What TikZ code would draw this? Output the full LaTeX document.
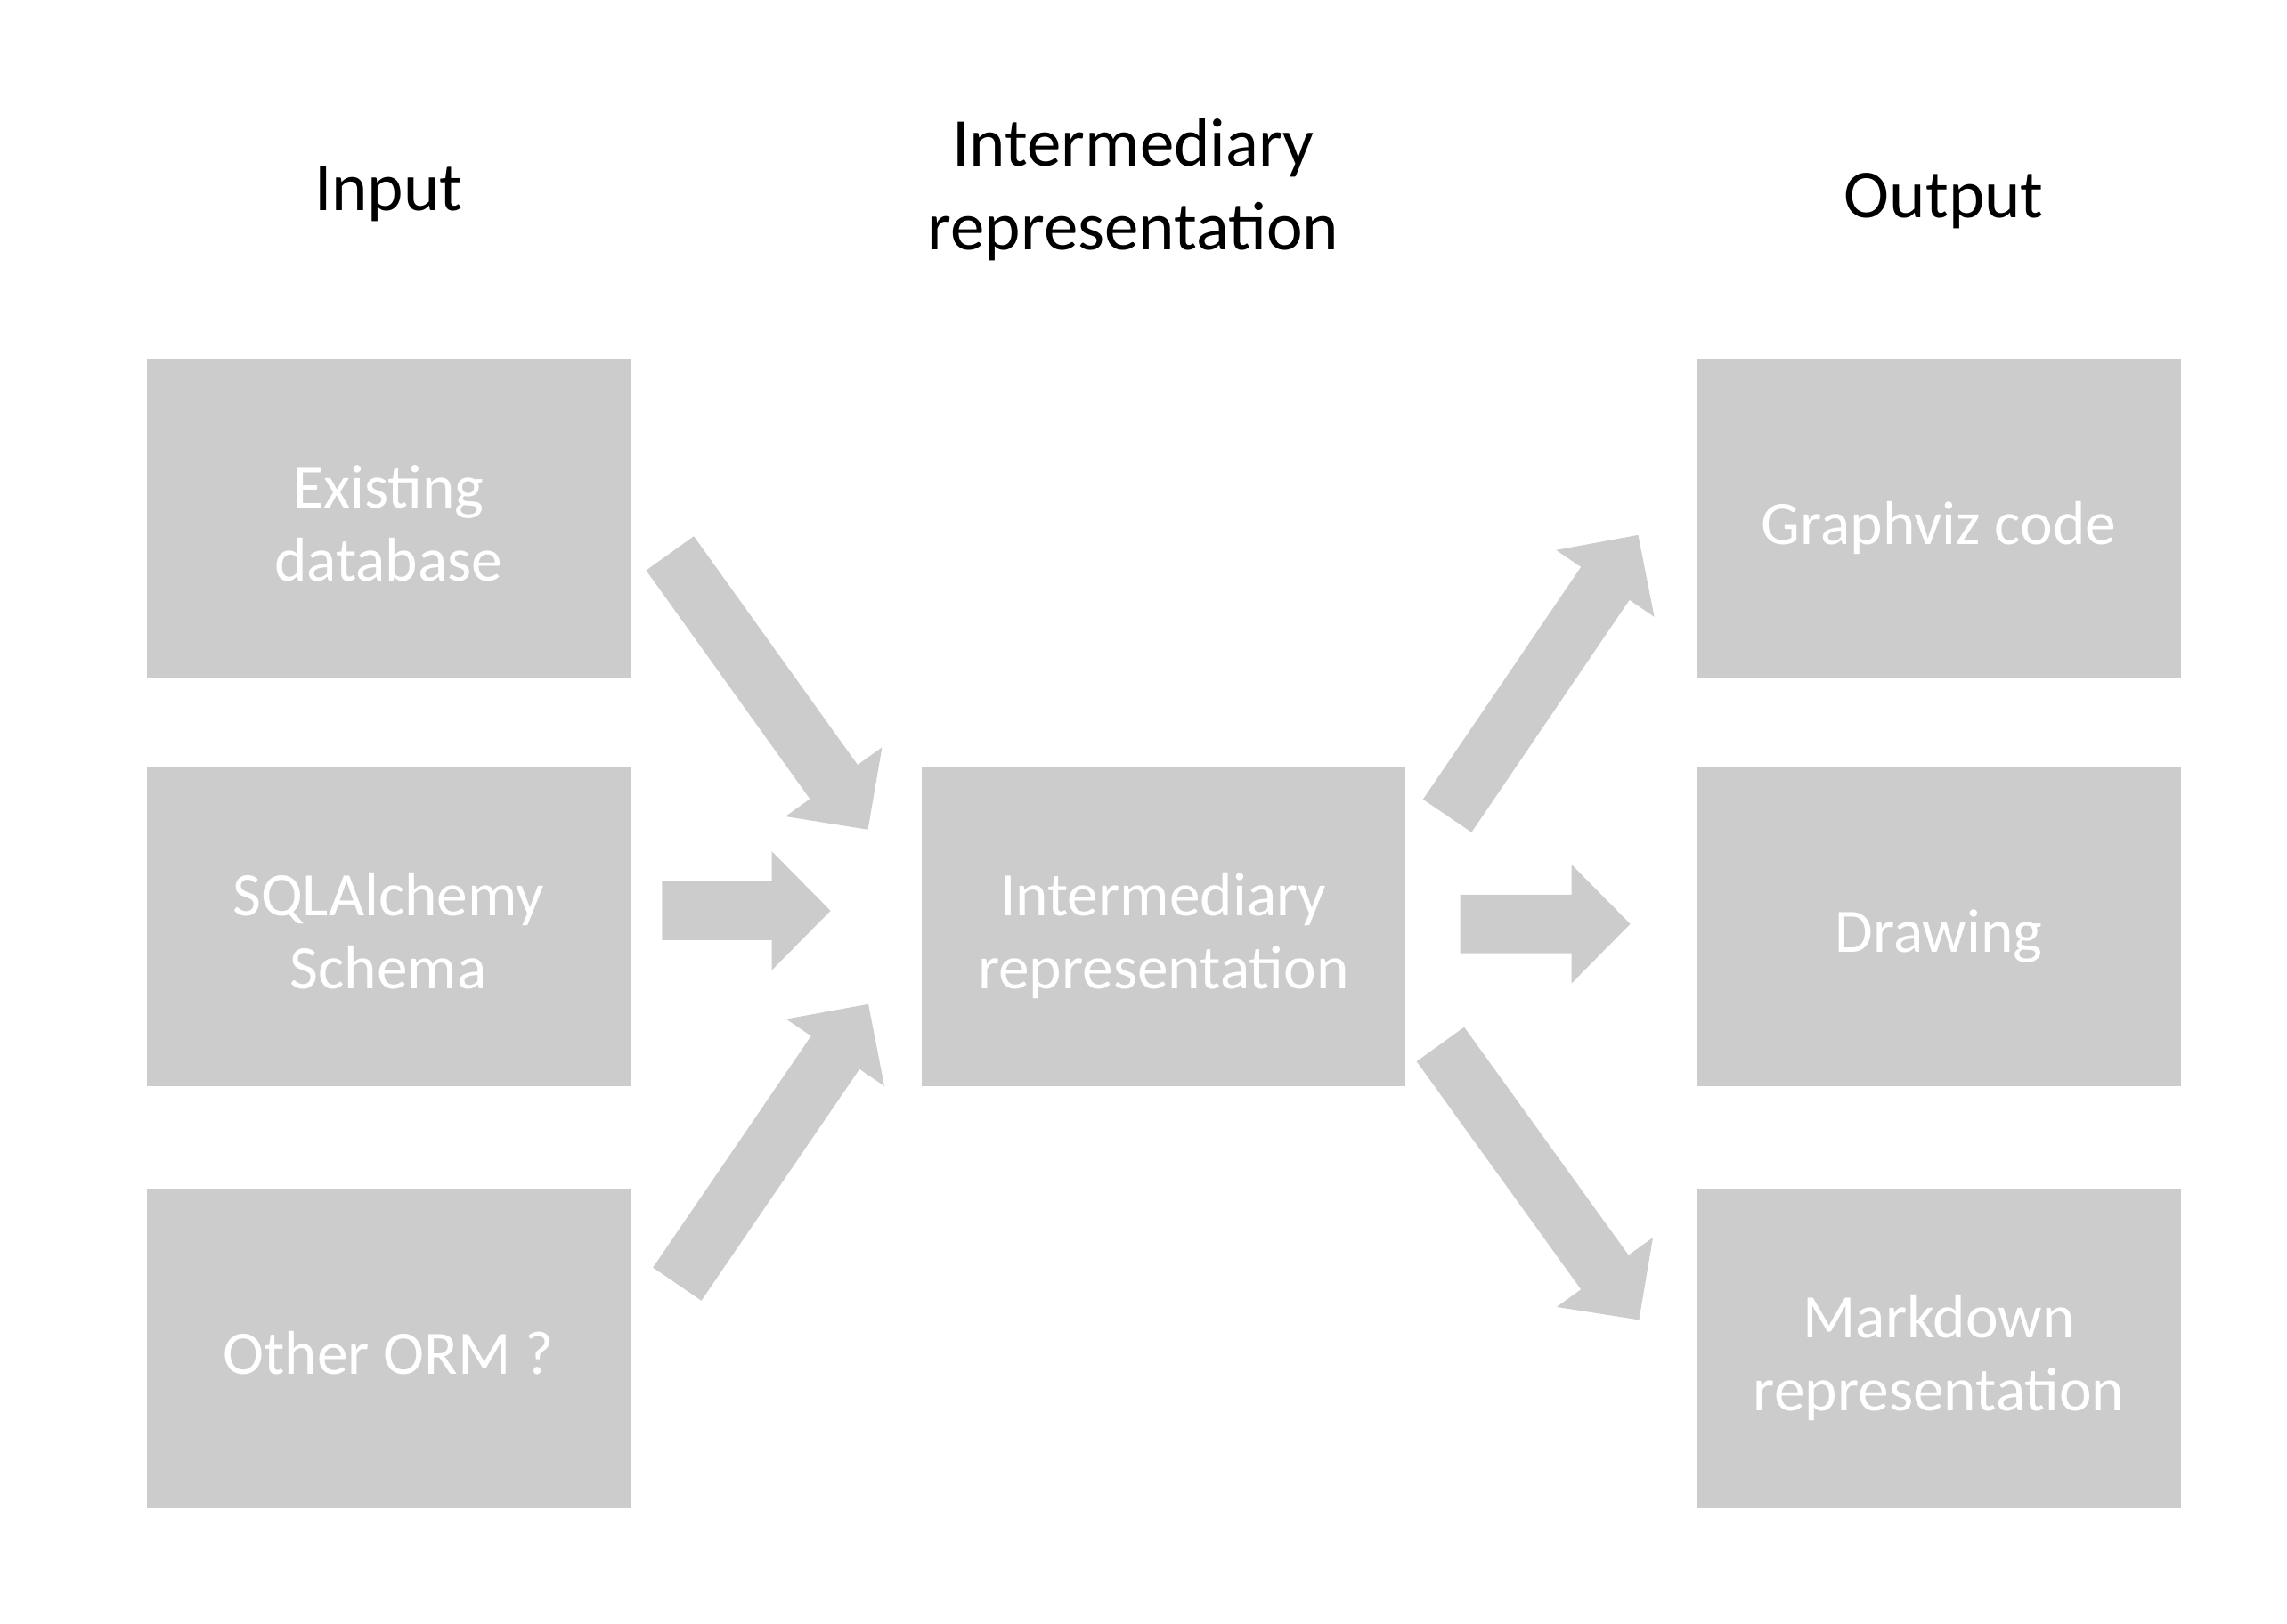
\documentclass[tikz,border=0pt]{standalone}
\usepackage{fontspec}
\setmainfont{Carlito}
\usetikzlibrary{calc}
\definecolor{boxgray}{RGB}{204,204,204}
\newcommand{\boxtop}{\rule{0pt}{12.1pt}}
\newcommand{\boxbot}{\rule[-2.1pt]{0pt}{2.1pt}}
\tikzset{
	block/.style={
		fill=boxgray,
		text=white,
		align=center,
		inner sep=0pt,
		minimum width=3.3cm,
		minimum height=2.18cm,
		font=\fontsize{12}{14.2}\selectfont
	},
	heading/.style={
		align=center,
		font=\fontsize{13.3}{16.2}\selectfont
	},
	fatarrow/.style={
		fill=boxgray,
		to path={
			($(\tikztostart)!2mm!90:(\tikztotarget)$)
			-- ($(\tikztotarget)!4.472mm!-26.565:(\tikztostart)$)
			-- ($(\tikztotarget)!5.692mm!-45.35:(\tikztostart)$)
			-- (\tikztotarget)
			-- ($(\tikztotarget)!5.692mm!45.35:(\tikztostart)$)
			-- ($(\tikztotarget)!4.472mm!26.565:(\tikztostart)$)
			-- ($(\tikztostart)!2mm!-90:(\tikztotarget)$) -- cycle
		}
	}
}

\begin{document}
\begin{tikzpicture}
	\useasboundingbox (0,0) rectangle (15.6,11.08);

	% headings
	\node[heading] (hin) at (2.65,9.755) {Input};
	\node[heading] (hir) at (7.73,9.785) {Intermediary\\representation};
	\node[heading] (hout) at (13.26,9.71) {Output};

	% input
	\node[block] (exist) at (2.65,7.54) {\boxtop Existing\\database\boxbot};
	\node[block] (sqla) at (2.65,4.76) {\boxtop SQLAlchemy\\Schema\boxbot};
	\node[block] (orm) at (2.65,1.88) {\boxtop Other ORM ?\boxbot};
	% intermediary
	\node[block] (ir) at (7.935,4.76) {\boxtop Intermediary\\representation\boxbot};
	% output
	\node[block] (gv) at (13.225,7.54) {\boxtop Graphviz code\boxbot};
	\node[block] (draw) at (13.225,4.76) {\boxtop Drawing\boxbot};
	\node[block] (md) at (13.225,1.88) {\boxtop Markdown\\representation\boxbot};

	% arrows
	\coordinate (exist-out) at (4.57,7.305);
	\coordinate (ir-in1) at (5.92,5.42);
	\coordinate (sqla-out) at (4.515,4.866);
	\coordinate (ir-in2) at (5.665,4.866);
	\coordinate (orm-out) at (4.619,2.319);
	\coordinate (ir-in3) at (5.923,4.229);
	\coordinate (ir-out1) at (9.872,5.514);
	\coordinate (gv-in) at (11.174,7.43);
	\coordinate (ir-out2) at (9.96,4.776);
	\coordinate (draw-in) at (11.12,4.776);
	\coordinate (ir-out3) at (9.825,3.955);
	\coordinate (md-in) at (11.18,2.075);
	\path[fatarrow] (exist-out) to (ir-in1);
	\path[fatarrow] (sqla-out) to (ir-in2);
	\path[fatarrow] (orm-out) to (ir-in3);
	\path[fatarrow] (ir-out1) to (gv-in);
	\path[fatarrow] (ir-out2) to (draw-in);
	\path[fatarrow] (ir-out3) to (md-in);
\end{tikzpicture}
\end{document}
